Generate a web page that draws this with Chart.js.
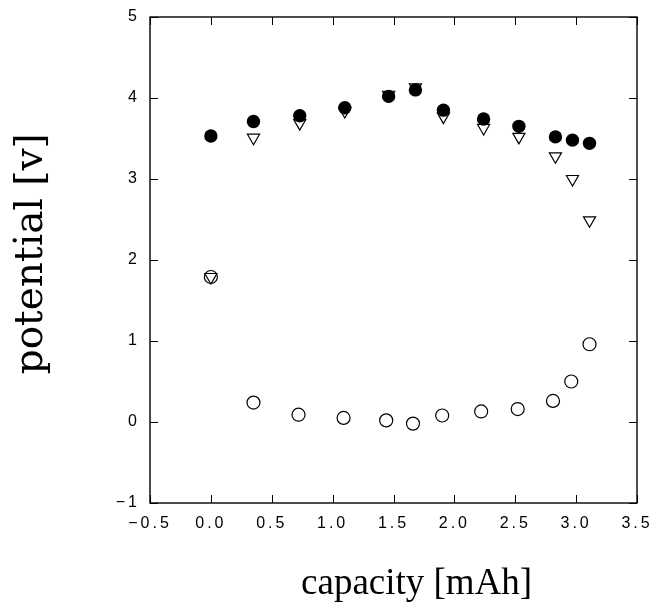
<!DOCTYPE html>
<html>
<head>
<meta charset="utf-8">
<script src="https://cdn.jsdelivr.net/npm/chart.js@4.4.1/dist/chart.umd.min.js"></script>
<style>
  html, body { margin: 0; padding: 0; background: #fff; }
  #wrap { width: 649px; height: 606px; }
</style>
</head>
<body>
<div id="wrap"><canvas id="chart"></canvas></div>
<script>
// values
const capacityCharge = [0.00, 0.35, 0.73, 1.10, 1.46, 1.68, 1.91, 2.24, 2.53, 2.83, 2.97, 3.11];
const potentialCharge = [3.53, 3.71, 3.78, 3.88, 4.02, 4.10, 3.85, 3.74, 3.65, 3.52, 3.48, 3.44];

const capacityTri = [0.00, 0.35, 0.73, 1.10, 1.46, 1.68, 1.91, 2.24, 2.53, 2.83, 2.97, 3.11];
const potentialTri = [1.79, 3.51, 3.69, 3.84, 4.04, 4.13, 3.77, 3.63, 3.52, 3.28, 3.00, 2.49];

const capacityOpen = [0.00, 0.35, 0.72, 1.09, 1.44, 1.66, 1.90, 2.22, 2.52, 2.81, 2.96, 3.11];
const potentialOpen = [1.79, 0.24, 0.09, 0.05, 0.02, -0.02, 0.08, 0.13, 0.16, 0.26, 0.50, 0.96];

const xTicks = [-0.5, 0.0, 0.5, 1.0, 1.5, 2.0, 2.5, 3.0, 3.5];
const yTicks = [-1, 0, 1, 2, 3, 4, 5];

function pts(xs, ys) {
    return xs.map((x, i) => ({ x: x, y: ys[i] }));
}

function minus(s) {
    return String(s).replace('-', '\u2212');
}

// box round the plot with inward ticks on all four sides
const frameTicks = {
    id: 'frameTicks',
    beforeDatasetsDraw(chart) {
        const ctx = chart.ctx;
        const a = chart.chartArea;
        const x = chart.scales.x;
        const y = chart.scales.y;
        const len = 8;
        ctx.save();
        ctx.strokeStyle = '#000';
        ctx.lineWidth = 1.4;
        ctx.strokeRect(a.left, a.top, a.right - a.left, a.bottom - a.top);
        ctx.beginPath();
        x.ticks.forEach(t => {
            const px = Math.round(x.getPixelForValue(t.value)) + 0.5;
            ctx.moveTo(px, a.bottom);
            ctx.lineTo(px, a.bottom - len);
            ctx.moveTo(px, a.top);
            ctx.lineTo(px, a.top + len);
        });
        y.ticks.forEach(t => {
            const py = Math.round(y.getPixelForValue(t.value)) + 0.5;
            ctx.moveTo(a.left, py);
            ctx.lineTo(a.left + len, py);
            ctx.moveTo(a.right, py);
            ctx.lineTo(a.right - len, py);
        });
        ctx.lineWidth = 1;
        ctx.stroke();
        ctx.restore();
    },
    // tick labels are drawn after the datasets (z: 1), widen their spacing only
    afterDatasetsDraw(chart) {
        chart.ctx.letterSpacing = '3px';
    },
    afterDraw(chart) {
        chart.ctx.letterSpacing = '0px';
    }
};

const tickFont = { family: 'Liberation Sans', size: 16 };

const ctx = document.getElementById('chart').getContext('2d');
new Chart(ctx, {
    type: 'scatter',
    data: {
        datasets: [{
            data: pts(capacityCharge, potentialCharge),
            pointStyle: 'circle',
            pointRadius: 6.7,
            backgroundColor: '#000',
            borderColor: '#000',
            borderWidth: 0
        }, {
            data: pts(capacityTri, potentialTri),
            pointStyle: 'triangle',
            rotation: 180,
            pointRadius: 7,
            backgroundColor: '#fff',
            borderColor: '#000',
            borderWidth: 1.2
        }, {
            data: pts(capacityOpen, potentialOpen),
            pointStyle: 'circle',
            pointRadius: 6.5,
            backgroundColor: '#fff',
            borderColor: '#000',
            borderWidth: 1.2
        }]
    },
    options: {
        responsive: true,
        maintainAspectRatio: false,
        animation: false,
        events: [],
        layout: { padding: { top: 17, right: 12, left: 0, bottom: 0 } },
        plugins: {
            legend: { display: false },
            tooltip: { enabled: false }
        },
        scales: {
            x: {
                type: 'linear',
                min: -0.5,
                max: 3.5,
                afterBuildTicks: s => { s.ticks = xTicks.map(v => ({ value: v })); },
                afterFit: s => { s.height = 103; s.paddingLeft = 0; s.paddingRight = 0; },
                grid: { display: false, drawTicks: false },
                border: { display: false },
                ticks: {
                    z: 1,
                    color: '#000',
                    font: tickFont,
                    padding: 11,
                    maxRotation: 0,
                    autoSkip: false,
                    callback: v => minus(v.toFixed(1))
                },
                title: {
                    display: true,
                    text: '     capacity [mAh]',
                    color: '#000',
                    font: { family: 'Liberation Serif', size: 37 },
                    padding: { top: 20, bottom: 0 }
                }
            },
            y: {
                type: 'linear',
                min: -1,
                max: 5,
                afterBuildTicks: s => { s.ticks = yTicks.map(v => ({ value: v })); },
                afterFit: s => { s.width = 150; s.paddingTop = 0; s.paddingBottom = 0; },
                grid: { display: false, drawTicks: false },
                border: { display: false },
                ticks: {
                    z: 1,
                    color: '#000',
                    font: tickFont,
                    padding: 10,
                    autoSkip: false,
                    callback: v => minus(v)
                },
                title: {
                    display: true,
                    text: ' potential [v]',
                    color: '#000',
                    font: { family: 'DejaVu Serif', size: 39 },
                    padding: { top: 8, bottom: 0 }
                }
            }
        }
    },
    plugins: [frameTicks]
});
</script>
</body>
</html>
